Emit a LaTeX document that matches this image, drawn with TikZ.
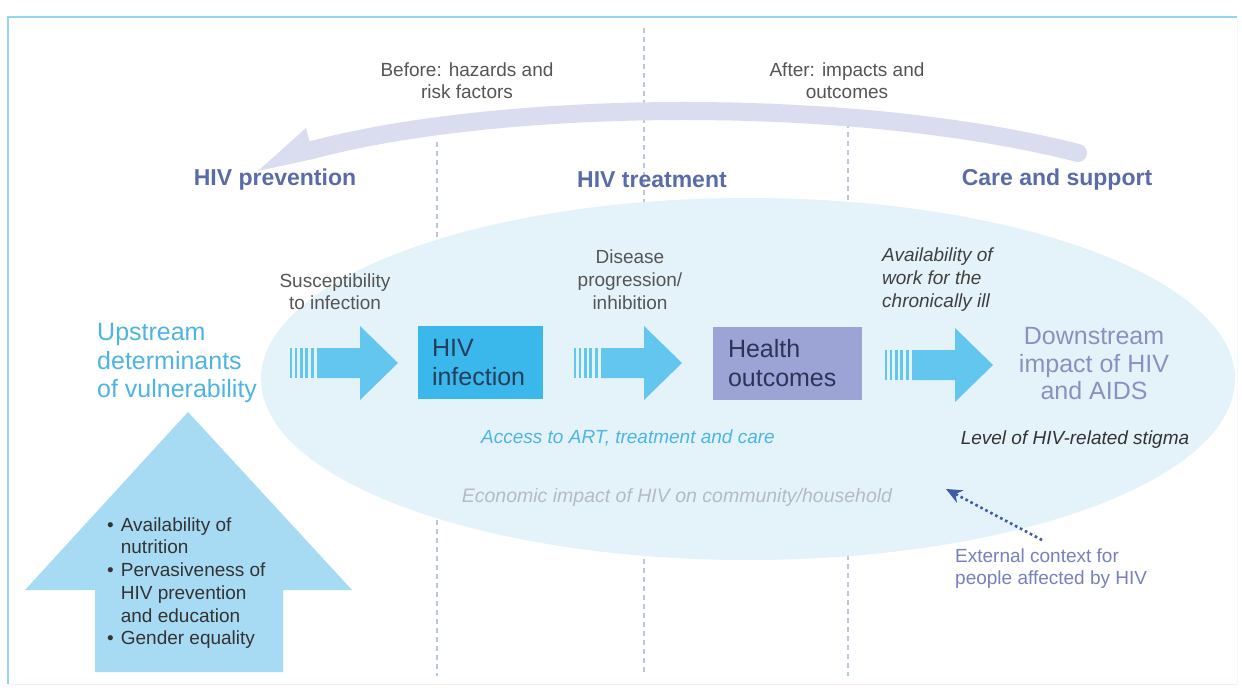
\documentclass[tikz,border=0pt]{standalone}
\usepackage{fontspec}
\setmainfont{Liberation Sans}
\usetikzlibrary{arrows.meta}
\definecolor{framecol}{HTML}{95D3EE}
\definecolor{bigarrow}{HTML}{DADDF0}
\definecolor{headcol}{HTML}{5A6CA8}
\definecolor{graytxt}{HTML}{555555}
\definecolor{ellcol}{HTML}{E4F3F9}
\definecolor{arrowblue}{HTML}{62C6EF}
\definecolor{infcol}{HTML}{3BB8EB}
\definecolor{infdark}{HTML}{263D5C}
\definecolor{healthcol}{HTML}{9CA3D5}
\definecolor{healthdark}{HTML}{2D3457}
\definecolor{upcol}{HTML}{A7DBF4}
\definecolor{upstreamcol}{HTML}{4CB5E3}
\definecolor{downcol}{HTML}{8A90C2}
\definecolor{accesscol}{HTML}{4DB5E5}
\definecolor{econcol}{HTML}{B3BCC2}
\definecolor{extcol}{HTML}{7880BD}
\definecolor{dotcol}{HTML}{3E5AA8}
\definecolor{dashcol}{HTML}{B8C9DC}
\newcommand\fsz[2]{\fontsize{#1}{#2}\selectfont}
\newcommand\stripedarrow[2]{%
  \fill[arrowblue] (#1+27,#2-15) -- (#1+70,#2-15) -- (#1+70,#2-37) -- (#1+108,#2)
     -- (#1+70,#2+37) -- (#1+70,#2+15) -- (#1+27,#2+15) -- cycle;
  \fill[arrowblue] (#1,#2-15) rectangle (#1+2,#2+15);
  \fill[arrowblue] (#1+5,#2-15) rectangle (#1+7,#2+15);
  \fill[arrowblue] (#1+10,#2-15) rectangle (#1+12.5,#2+15);
  \fill[arrowblue] (#1+15,#2-15) rectangle (#1+18,#2+15);
  \fill[arrowblue] (#1+20.5,#2-15) rectangle (#1+24,#2+15);
}
\tikzset{
  small/.style={font=\fsz{19}{22}, text=graytxt, inner sep=0pt, align=center},
  heading/.style={font=\fsz{23}{26}\bfseries, text=headcol, inner sep=0pt},
  big/.style={font=\fsz{25}{28.5}, inner sep=0pt},
  boxnode/.style={anchor=center, minimum height=73, align=left, inner ysep=0pt,
    font=\fsz{25}{29}},
  dashline/.style={dashcol, line width=1.1pt, dash pattern=on 5pt off 4pt},
}
\begin{document}
\begin{tikzpicture}[x=1pt,y=-1pt]
\useasboundingbox (0,0) rectangle (1242,690);
\fill[white] (0,0) rectangle (1242,690);
% frame
\draw[line width=0.8pt, color=ellcol!60] (1237,17) -- (1237,684);
\draw[line width=1pt, color=red!8] (8,684) -- (1237,684);
\draw[line width=2pt, framecol] (8,684) -- (8,17) -- (1237,17);
% dashed column lines
\draw[dashline] (437,142) -- (437,676);
\draw[dashline] (644,28) -- (644,676);
\draw[dashline] (848,123) -- (848,676);
% ellipse
\fill[ellcol] (748,379) ellipse [x radius=487, y radius=181];
% big curved arrow
\draw[bigarrow, line width=18pt, line cap=round] (1078,153) .. controls (850,95) and (500,100) .. (312,150);
\fill[bigarrow] (314.5,158.7) -- (258,171) -- (306,128) -- (309.5,141.3) -- cycle;
% top texts
\node[small] (before) at (467,81) {Before: hazards and\\risk factors};
\node[small] (after) at (847,81) {After: impacts and\\outcomes};
\node[heading] (prev) at (275,180) {HIV prevention};
\node[heading] (treat) at (652,180) {HIV treatment};
\node[heading] (care) at (1057,180) {Care and support};
% up arrow
\fill[upcol] (188,412) -- (352,590) -- (283,590) -- (283,672) -- (95,672) -- (95,590) -- (25,590) -- cycle;
\node[anchor=west, inner sep=0pt, font=\fsz{19}{22.7}, text=black!80] (bullets) at (107,583.5)
 {\begin{tabular}{@{}l@{\hspace{7pt}}l@{}}
 \textbullet & Availability of\\
  & nutrition\\
 \textbullet & Pervasiveness of\\
  & HIV prevention\\
  & and education\\
 \textbullet & Gender equality
 \end{tabular}};
% main texts
\node[big, anchor=west, align=left, text=upstreamcol] (up) at (97,363)
 {Upstream\\determinants\\of vulnerability};
\node[small] (susc) at (335,292) {Susceptibility\\to infection};
\node[small, font=\fsz{19}{23}] (dis) at (630,280) {Disease\\progression/\\inhibition};
\node[small, anchor=west, align=left, font=\fsz{19}{23}\itshape, text=black!75] (work) at (882,280)
 {Availability of\\work for the\\chronically ill};
\node[boxnode, fill=infcol, text=infdark, text width=97, inner xsep=14] (hiv) at (480.5,362.5) {HIV\\infection};
\node[boxnode, fill=healthcol, text=healthdark, text width=119, inner xsep=15] (health) at (787.5,363) {Health\\outcomes};
\node[big, align=center, text=downcol, font=\fsz{25}{27.5}] (down) at (1094,364) {Downstream\\impact of HIV\\and AIDS};
% striped arrows
\stripedarrow{290}{363}
\stripedarrow{574}{363}
\stripedarrow{885}{365}
% italic labels
\node[small, font=\fsz{19}{22}\itshape, text=accesscol] (access) at (628,438) {Access to ART, treatment and care};
\node[small, font=\fsz{19}{22}\itshape, text=black!80] (stigma) at (1075,440) {Level of HIV-related stigma};
\node[small, font=\fsz{19.5}{22}\itshape, text=econcol] (econ) at (677,497) {Economic impact of HIV on community/household};
\node[small, anchor=west, align=left, text=extcol] (ext) at (955,569) {External context for\\people affected by HIV};
% dotted arrow
\coordinate (exttail) at (1042,540);
\coordinate (exttip) at (946,489);
\draw[dotcol, line width=2.6pt, dash pattern=on 2.6pt off 3pt, -{Stealth[length=16pt, width=14pt]}] (exttail) -- (exttip);
\end{tikzpicture}
\end{document}
